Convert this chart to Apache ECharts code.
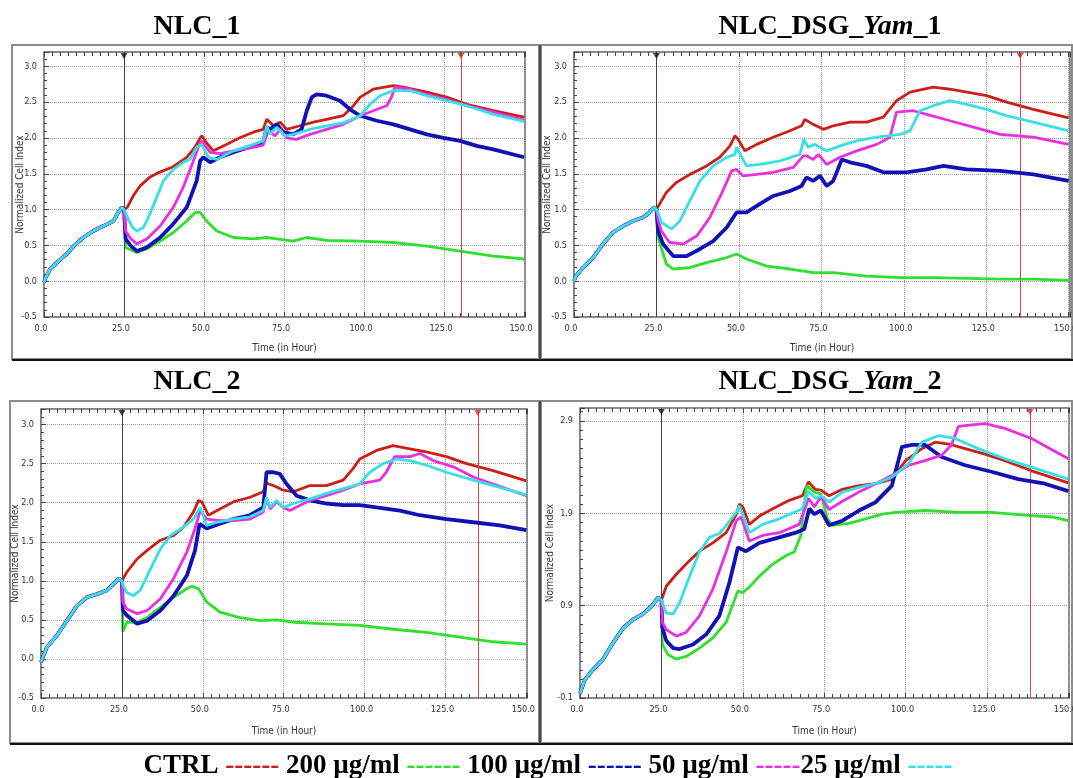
<!DOCTYPE html>
<html>
<head>
<meta charset="utf-8">
<title>Real-time cell index – NLC and NLC_DSG_Yam</title>
<script src="https://cdn.jsdelivr.net/npm/echarts@6/dist/echarts.min.js"></script>
<style>
  html, body { margin: 0; padding: 0; background: #ffffff; }
  #chart { width: 1073px; height: 778px; }
</style>
</head>
<body>
<div id="chart"></div>
<script>
// ---- Data: time (h) vs normalized cell index, one array per curve ----
const seriesNames = ['CTRL', '200 µg/ml', '100 µg/ml', '50 µg/ml', '25 µg/ml'];
const seriesColors = ['#cc1f1a', '#2fe02f', '#1212b4', '#e830e0', '#38e0e6'];
const panelTitles = ['NLC_1', 'NLC_DSG_Yam_1', 'NLC_2', 'NLC_DSG_Yam_2'];
const xTickLabels = ['0.0', '25.0', '50.0', '75.0', '100.0', '125.0', '150.0'];
const treatmentTime = [25, 25, 25, 25];
const endMarkerTime = [130.3, 135.3, 135, 138.2];

// NLC_1
const nlc1Base = [[0,-0.02],[0.5,0.05],[1.9,0.17],[4.5,0.28],[7.1,0.38],[9.5,0.5],[12.3,0.61],[15,0.69],[17.5,0.75],[20,0.8],[21.7,0.84],[23.2,0.96],[24.3,1.03],[25,1.0]];
const nlc1Ctrl = [[26,1.03],[28,1.2],[30,1.33],[33,1.45],[36,1.52],[40,1.59],[44.6,1.73],[47.2,1.87],[48.8,2.0],[49.3,2.03],[51,1.92],[52.9,1.82],[57,1.91],[61,2.0],[65.4,2.08],[68.5,2.12],[69.6,2.26],[71.7,2.17],[73.8,2.22],[75.8,2.12],[80,2.17],[84.2,2.22],[88.3,2.26],[93.5,2.31],[96.7,2.45],[98.8,2.57],[102.9,2.68],[109.2,2.73],[112.3,2.71],[119.6,2.64],[125.8,2.57],[132.1,2.47],[140.4,2.38],[150,2.29]];
const nlc1D200 = [[25.5,0.47],[29,0.40],[32,0.45],[36.3,0.56],[40.4,0.68],[44.6,0.84],[47.2,0.96],[48.8,0.96],[50.8,0.84],[54,0.70],[59.2,0.61],[65.4,0.59],[69.6,0.61],[72.7,0.59],[77.9,0.56],[82.1,0.61],[88.3,0.57],[98.8,0.56],[109.2,0.54],[119.6,0.49],[130,0.42],[140.4,0.35],[150,0.31]];
const nlc1D100 = [[25.5,0.59],[27,0.5],[29,0.42],[32.1,0.47],[36.3,0.61],[40.4,0.80],[44.6,1.03],[47.7,1.40],[48.8,1.68],[49.8,1.73],[51.9,1.66],[55,1.73],[59.2,1.80],[65.4,1.89],[68.5,1.94],[69.6,2.15],[70.6,2.12],[72.7,2.19],[74.8,2.08],[77.9,2.05],[80.5,2.12],[82.1,2.38],[83.7,2.57],[85.2,2.61],[88.3,2.59],[92.5,2.52],[95.6,2.40],[98.8,2.31],[104,2.24],[109.2,2.19],[114.4,2.12],[119.6,2.05],[124.8,2.0],[130,1.96],[135.2,1.89],[140.4,1.84],[150,1.73]];
const nlc1D50 = [[25.5,0.70],[27,0.6],[29,0.52],[32.1,0.59],[36.3,0.77],[40.4,1.03],[43.5,1.31],[46.1,1.61],[48.2,1.87],[49.3,1.96],[51.9,1.80],[55,1.78],[59.2,1.82],[65.4,1.87],[68.5,1.90],[70.1,2.10],[72.2,2.03],[73.8,2.12],[75.8,2.0],[78.9,1.98],[83.1,2.05],[88.3,2.12],[93.5,2.19],[98.8,2.31],[102.9,2.38],[107.1,2.45],[108.6,2.57],[109.7,2.71],[114.4,2.68],[119.6,2.61],[125.8,2.54],[132.1,2.45],[140.4,2.36],[150,2.25]];
const nlc1D25 = [[25.5,0.95],[26.5,0.85],[27.7,0.75],[29,0.70],[31.1,0.75],[33.1,0.94],[35.2,1.17],[37.3,1.40],[40.4,1.56],[43.5,1.66],[45.6,1.70],[47.7,1.87],[49.3,1.91],[51.4,1.73],[54,1.70],[59.2,1.82],[65.4,1.91],[68.5,1.96],[69.6,2.17],[70.6,2.05],[72.7,2.15],[75.3,2.03],[77.9,2.05],[83.1,2.12],[88.3,2.17],[93.5,2.21],[98.8,2.31],[101.9,2.47],[105,2.59],[109.2,2.66],[114.4,2.66],[119.6,2.59],[125.8,2.52],[132.1,2.45],[140.4,2.33],[150,2.23]];

// NLC_DSG_Yam_1
const yam1Base = [[0,0.0],[0.5,0.07],[2.8,0.19],[5.8,0.33],[8.8,0.52],[11.8,0.68],[14.9,0.77],[17.9,0.84],[20.9,0.89],[22.5,0.94],[23.5,1.0],[24.5,1.03],[25,1.0]];
const yam1Ctrl = [[28,1.24],[31.1,1.38],[35.1,1.49],[40.2,1.61],[44.2,1.73],[47.3,1.89],[48.8,2.03],[49.8,1.98],[51.8,1.82],[55.4,1.91],[60.4,2.01],[65.5,2.10],[69,2.17],[70,2.26],[72.5,2.19],[75.6,2.12],[78.6,2.17],[83.7,2.22],[88.7,2.22],[93.8,2.29],[97.8,2.52],[101.9,2.64],[108.9,2.71],[114,2.68],[119.1,2.64],[125.1,2.59],[131.2,2.50],[139.3,2.40],[150,2.28]];
const yam1D200 = [[25.5,0.61],[28,0.24],[30.1,0.17],[35.1,0.19],[40.2,0.26],[46.3,0.33],[49.3,0.38],[52.3,0.31],[58.4,0.21],[65.5,0.17],[72.6,0.12],[78.6,0.12],[88.7,0.07],[98.9,0.05],[109,0.05],[119.1,0.04],[129.2,0.03],[139.3,0.03],[150,0.01]];
const yam1D100 = [[25.5,0.70],[27,0.52],[30.1,0.35],[34.1,0.35],[38.2,0.45],[42.2,0.56],[46.3,0.75],[49.3,0.96],[52.3,0.96],[56.4,1.08],[60.4,1.19],[65.5,1.26],[69,1.33],[70.5,1.45],[72.5,1.40],[74.6,1.47],[76.6,1.33],[78.6,1.40],[81.2,1.70],[83.7,1.66],[88.7,1.61],[93.8,1.52],[100.8,1.52],[106.9,1.56],[112,1.61],[119.1,1.56],[129.2,1.54],[139.3,1.49],[150,1.40]];
const yam1D50 = [[25.5,0.85],[26.5,0.70],[29,0.54],[33.1,0.52],[37.2,0.63],[41.2,0.89],[44.7,1.22],[47.8,1.54],[49.3,1.56],[51.3,1.47],[55.4,1.49],[60.4,1.52],[66.5,1.59],[69.5,1.75],[70.5,1.75],[72.5,1.70],[74.1,1.77],[76.6,1.63],[80.7,1.73],[85.7,1.82],[91.8,1.91],[95.8,2.01],[97.8,2.36],[102.9,2.38],[107,2.33],[114,2.24],[121.1,2.15],[129.2,2.05],[139.3,2.01],[150,1.91]];
const yam1D25 = [[25.5,0.95],[26.5,0.82],[29.6,0.73],[32.1,0.84],[35.1,1.12],[38.2,1.40],[42.2,1.61],[46.3,1.73],[48.8,1.77],[49.3,1.87],[52.3,1.61],[56.4,1.63],[62.5,1.68],[68.5,1.77],[69.7,1.98],[71,1.87],[73,1.91],[76.6,1.82],[80.7,1.89],[85.7,1.96],[91.8,2.01],[98.9,2.05],[101.9,2.10],[104.9,2.38],[108.9,2.45],[114,2.52],[119.1,2.47],[125.1,2.40],[131.2,2.31],[139.3,2.22],[150,2.10]];

// NLC_2
const nlc2Base = [[0,-0.04],[1.8,0.15],[4.9,0.30],[8,0.49],[11.1,0.68],[14.2,0.79],[17.3,0.83],[20.4,0.88],[22.9,0.98],[24,1.03],[25,1.0]];
const nlc2Ctrl = [[26.5,1.11],[29.7,1.28],[32.8,1.39],[36.9,1.52],[41,1.58],[44.1,1.69],[47.1,1.88],[48.7,2.03],[49.7,2.01],[51.7,1.84],[55.3,1.92],[59.4,2.01],[64.6,2.07],[68.7,2.14],[69.7,2.25],[71.8,2.22],[74.9,2.16],[78,2.14],[83.1,2.22],[88.2,2.22],[93.4,2.29],[96.5,2.44],[98.5,2.56],[103.7,2.67],[108.8,2.73],[114,2.69],[119.1,2.65],[125.3,2.59],[131.5,2.50],[139.7,2.41],[150,2.28]];
const nlc2D200 = [[25.3,0.35],[26.5,0.47],[29.7,0.47],[32.8,0.53],[36.9,0.66],[41,0.79],[45.1,0.90],[46.6,0.93],[48.7,0.90],[51.2,0.73],[55.3,0.60],[61.5,0.53],[67.7,0.49],[72.8,0.50],[78,0.47],[88.2,0.45],[98.5,0.43],[108.8,0.38],[119.1,0.34],[129.4,0.28],[139.7,0.22],[150,0.19]];
const nlc2D100 = [[25.3,0.62],[26.5,0.56],[29.7,0.45],[32.8,0.49],[36.9,0.62],[41,0.81],[45.1,1.07],[47.6,1.39],[49,1.73],[51.2,1.67],[55.3,1.73],[59.4,1.79],[64.6,1.84],[68.7,1.94],[69.7,2.39],[71.8,2.39],[73.8,2.37],[75.9,2.24],[79,2.09],[83.1,2.03],[88.2,1.99],[93.4,1.97],[98.5,1.97],[103.7,1.94],[110.9,1.90],[117.1,1.84],[125.3,1.79],[133.6,1.75],[141.8,1.71],[150,1.65]];
const nlc2D50 = [[25.3,0.73],[26.5,0.64],[29.7,0.58],[32.8,0.62],[36.9,0.77],[41,1.03],[45.1,1.37],[47.6,1.67],[49.2,1.90],[51.2,1.79],[55.3,1.77],[59.4,1.77],[64.6,1.79],[68.7,1.88],[69.7,2.05],[70.8,1.92],[72.8,2.01],[74.9,1.94],[76.9,1.90],[83.1,2.03],[88.2,2.09],[93.4,2.16],[98.5,2.24],[104.7,2.29],[106.7,2.39],[109.3,2.59],[114,2.59],[117.1,2.63],[121.2,2.54],[127.4,2.46],[133.6,2.33],[139.7,2.24],[150,2.09]];
const nlc2D25 = [[25.3,0.96],[26.5,0.85],[28.6,0.81],[30.7,0.88],[33.8,1.15],[36.9,1.41],[40,1.58],[44.1,1.69],[47.1,1.79],[49.2,1.94],[51.2,1.71],[54.3,1.75],[59.4,1.79],[64.6,1.82],[68.7,1.90],[69.7,2.07],[70.8,1.94],[72.8,2.03],[74.9,1.94],[78,1.99],[83.1,2.05],[88.2,2.12],[93.4,2.18],[98.5,2.24],[101.6,2.39],[105.7,2.50],[109.9,2.56],[114,2.54],[119.1,2.48],[125.3,2.39],[133.6,2.29],[139.7,2.22],[150,2.10]];

// NLC_DSG_Yam_2
const yam2Base = [[0,-0.05],[1.5,0.10],[4.1,0.21],[7.1,0.32],[10.2,0.50],[13.3,0.66],[16.3,0.75],[19.4,0.81],[22.4,0.91],[24,0.99],[25,0.96]];
const yam2Ctrl = [[26.5,1.11],[29.6,1.24],[32.6,1.35],[36.7,1.49],[40.8,1.58],[44.9,1.69],[48,1.89],[49,2.0],[50,1.97],[52,1.78],[55.1,1.87],[59.2,1.95],[64.3,2.04],[68.3,2.09],[70.2,2.24],[72.2,2.16],[74,2.15],[76.5,2.09],[80.6,2.16],[85.7,2.20],[90.8,2.22],[95.8,2.27],[100,2.47],[105,2.60],[109.1,2.67],[113.2,2.65],[118.3,2.60],[124.4,2.54],[130.5,2.47],[138.7,2.36],[150,2.23]];
const yam2D200 = [[25.3,0.48],[27,0.37],[29.6,0.32],[32.6,0.35],[36.7,0.44],[40.8,0.55],[44.9,0.72],[48.5,1.06],[50,1.04],[52,1.10],[55.1,1.22],[59.2,1.35],[63.2,1.44],[65.8,1.48],[67.8,1.66],[69.6,2.20],[72,2.13],[74,2.11],[76,1.84],[77.5,1.77],[82.6,1.79],[87.7,1.84],[92.8,1.89],[96.9,1.91],[106,1.93],[116.2,1.91],[126.4,1.91],[136.6,1.88],[144.8,1.86],[150,1.82]];
const yam2D100 = [[25.3,0.66],[26.5,0.52],[28.6,0.44],[30.6,0.43],[34.7,0.48],[38.8,0.59],[42.8,0.79],[45.9,1.15],[48.5,1.53],[51,1.49],[55.1,1.58],[61.2,1.64],[66.3,1.69],[68.9,1.73],[70.4,1.95],[72,1.89],[74,1.93],[76.5,1.77],[80.6,1.82],[85.7,1.93],[90.8,2.02],[95.8,2.20],[98.9,2.62],[102,2.64],[106,2.64],[111.1,2.51],[118.3,2.42],[126.4,2.35],[134.6,2.27],[142.8,2.22],[150,2.14]];
const yam2D50 = [[25.3,0.72],[26.5,0.64],[29.6,0.57],[32.6,0.61],[36.7,0.79],[40.8,1.08],[44.9,1.48],[48,1.82],[49.5,1.86],[52,1.60],[56.1,1.66],[61.2,1.69],[67.3,1.78],[70.2,2.06],[72,1.97],[74,2.08],[76.5,1.94],[80.6,2.03],[85.7,2.13],[90.8,2.22],[95.8,2.31],[101,2.42],[106,2.47],[111.1,2.53],[114.1,2.64],[116.2,2.84],[121.2,2.86],[124.4,2.87],[130.5,2.82],[138.7,2.71],[150,2.49]];
const yam2D25 = [[25.3,0.93],[26.5,0.82],[28.6,0.81],[30.6,0.93],[33.7,1.22],[36.7,1.48],[39.8,1.64],[42.8,1.68],[44.9,1.77],[48,1.91],[49,1.98],[52,1.69],[56.1,1.78],[61.2,1.84],[68.3,1.95],[70.2,2.14],[72.4,2.06],[74,2.09],[76.5,2.02],[80.6,2.13],[85.7,2.18],[90.8,2.22],[95.8,2.29],[101,2.44],[105,2.67],[110.1,2.74],[115.2,2.71],[122.3,2.60],[130.5,2.49],[138.7,2.40],[150,2.27]];

const panelData = [
  { base: nlc1Base, curves: [nlc1Ctrl, nlc1D200, nlc1D100, nlc1D50, nlc1D25] },
  { base: yam1Base, curves: [yam1Ctrl, yam1D200, yam1D100, yam1D50, yam1D25] },
  { base: nlc2Base, curves: [nlc2Ctrl, nlc2D200, nlc2D100, nlc2D50, nlc2D25] },
  { base: yam2Base, curves: [yam2Ctrl, yam2D200, yam2D100, yam2D50, yam2D25] }
];

// ---- Layout of the four plot areas ----
const layout = [
  { grid: { left: 44,  top: 52,  width: 481, height: 265 }, xMax: 150.3, yMin: -0.5, yMax: 3.2,  yStep: 0.5, yMinor: 5,  yNameGap: 19, xNameGap: 26 },
  { grid: { left: 574, top: 52,  width: 496, height: 265 }, xMax: 150.4, yMin: -0.5, yMax: 3.2,  yStep: 0.5, yMinor: 5,  yNameGap: 22, xNameGap: 26 },
  { grid: { left: 41,  top: 409, width: 486, height: 289 }, xMax: 150.2, yMin: -0.5, yMax: 3.2,  yStep: 0.5, yMinor: 5,  yNameGap: 21, xNameGap: 28 },
  { grid: { left: 580, top: 408, width: 489, height: 290 }, xMax: 150.2, yMin: -0.1, yMax: 3.04, yStep: 1,   yMinor: 10, yNameGap: 25, xNameGap: 28 }
];

const tickFont = "'Liberation Sans Narrow','DejaVu Sans Condensed','Liberation Sans',sans-serif";
const serif = "'Liberation Serif','Times New Roman',serif";
const tickLine = { color: '#444' };
const dotted = { type: 'dotted', color: '#9a9a9a', width: 1 };

const grids = [], xAxes = [], yAxes = [], series = [];

function xLabel(v) {
  const i = Math.round(v / 25);
  return Math.abs(v - i * 25) < 1e-6 ? xTickLabels[i] : '';
}

layout.forEach((L, p) => {
  // grid 3p: data area; 3p+1: bottom time scale; 3p+2: top edge ticks
  const fixed = { containLabel: false, outerBoundsMode: 'none' };
  const gData = grids.length;
  grids.push(Object.assign({ show: true, backgroundColor: '#ffffff', borderColor: '#5c5c5c', borderWidth: 1.5 }, fixed, L.grid));
  grids.push(Object.assign({ show: false }, fixed, L.grid));
  grids.push(Object.assign({ show: false }, fixed, L.grid));

  // data grid axes
  const xData = xAxes.length;
  xAxes.push({
    type: 'value', gridIndex: gData, min: 0, max: L.xMax, interval: 25,
    axisLine: { show: false, onZero: false }, axisTick: { show: false }, axisLabel: { show: false },
    splitLine: { show: true, lineStyle: dotted }
  });
  const yData = yAxes.length;
  yAxes.push({
    type: 'value', gridIndex: gData, min: L.yMin, max: L.yMax, interval: L.yStep,
    name: 'Normalized Cell Index', nameLocation: 'middle', nameGap: L.yNameGap, nameRotate: 90,
    nameMoveOverlap: false,
    nameTextStyle: { fontFamily: tickFont, fontSize: 10, color: '#333' },
    axisLine: { show: false, onZero: false },
    axisTick: { show: true, inside: true, length: 5, lineStyle: tickLine },
    minorTick: { show: true, splitNumber: L.yMinor, length: 3, lineStyle: tickLine },
    axisLabel: { margin: 7, fontFamily: tickFont, fontSize: 9, color: '#333', showMaxLabel: false, formatter: v => v.toFixed(1) },
    splitLine: { show: true, lineStyle: dotted }
  });

  // bottom time scale (unit helper axis keeps it on the lower edge)
  xAxes.push({
    type: 'value', gridIndex: gData + 1, position: 'bottom', min: 0, max: L.xMax, interval: 25,
    name: 'Time (in Hour)', nameLocation: 'middle', nameGap: L.xNameGap, nameMoveOverlap: false,
    nameTextStyle: { fontFamily: tickFont, fontSize: 10, color: '#333' },
    axisLine: { show: false, onZero: false },
    axisTick: { show: true, inside: true, length: 5, lineStyle: tickLine },
    minorTick: { show: true, splitNumber: 10, length: 4, lineStyle: tickLine },
    axisLabel: {
      margin: 7, fontFamily: tickFont, fontSize: 9, color: '#333', padding: [0, 6, 0, 0],
      showMaxLabel: true, hideOverlap: false, formatter: xLabel
    },
    splitLine: { show: false }
  });
  yAxes.push({ type: 'value', gridIndex: gData + 1, min: 0, max: 1, show: false });

  // top edge ticks
  xAxes.push({
    type: 'value', gridIndex: gData + 2, position: 'top', min: 0, max: L.xMax, interval: 25,
    axisLine: { show: false, onZero: false }, axisLabel: { show: false }, splitLine: { show: false },
    axisTick: { show: true, inside: true, length: 5, lineStyle: tickLine },
    minorTick: { show: true, splitNumber: 10, length: 4, lineStyle: tickLine }
  });
  yAxes.push({ type: 'value', gridIndex: gData + 2, min: 0, max: 1, inverse: true, show: false });

  const D = panelData[p];
  D.curves.forEach((c, k) => {
    series.push({
      type: 'line', name: seriesNames[k], xAxisIndex: xData, yAxisIndex: yData,
      data: D.base.concat(c), showSymbol: false, symbol: 'none', animation: false, silent: true,
      lineStyle: { color: seriesColors[k], width: k === 2 ? 3.8 : 2.8 },
      z: 3 + k
    });
  });

  // treatment (black) and end-point (red) markers
  series.push({
    type: 'scatter', xAxisIndex: xData, yAxisIndex: yData, animation: false, silent: true,
    data: [
      { value: [treatmentTime[p], L.yMax], itemStyle: { color: '#111' } },
      { value: [endMarkerTime[p], L.yMax], itemStyle: { color: '#d42a2a' } }
    ],
    symbol: 'triangle', symbolRotate: 180, symbolSize: [7, 6], symbolOffset: [0, 4], clip: false, z: 10,
    markLine: {
      silent: true, symbol: 'none', animation: false, label: { show: false },
      data: [
        { xAxis: treatmentTime[p], lineStyle: { color: '#444', width: 1, type: 'solid' } },
        { xAxis: endMarkerTime[p], lineStyle: { color: '#d84848', width: 1, type: 'solid' } }
      ]
    }
  });
});

// ---- panel frames, titles and the colour key ----
const frames = [
  { x: 12, y: 45, w: 527, h: 314 },
  { x: 541, y: 45, w: 531, h: 314 },
  { x: 10, y: 401, w: 529, h: 342 },
  { x: 541, y: 401, w: 531, h: 342 }
];
const graphics = [];
frames.forEach(f => graphics.push({
  type: 'rect', z: -10, silent: true,
  shape: { x: f.x, y: f.y, width: f.w, height: f.h },
  style: { fill: 'none', stroke: '#8c8c8c', lineWidth: 2 }
}));
[[12, 360, 1073, 360], [10, 744, 1073, 744]].forEach(l => graphics.push({
  type: 'line', z: -5, silent: true, shape: { x1: l[0], y1: l[1], x2: l[2], y2: l[3] },
  style: { stroke: '#111', lineWidth: 2 }
}));
[[540, 45, 540, 360], [540, 401, 540, 744]].forEach(l => graphics.push({
  type: 'line', z: -5, silent: true, shape: { x1: l[0], y1: l[1], x2: l[2], y2: l[3] },
  style: { stroke: '#333', lineWidth: 1.5 }
}));

const titleRich = {
  b: { fontFamily: serif, fontWeight: 'bold', fontSize: 28, fill: '#000', color: '#000' },
  i: { fontFamily: serif, fontWeight: 'bold', fontStyle: 'italic', fontSize: 28, fill: '#000', color: '#000' }
};
function richTitle(t) {
  const m = t.match(/^(.*_)(Yam)(_.*)$/);
  return m ? '{b|' + m[1] + '}{i|' + m[2] + '}{b|' + m[3] + '}' : '{b|' + t + '}';
}
const titlePos = [[197, 27], [830, 27], [197, 382], [830, 382]];
panelTitles.forEach((t, p) => graphics.push({
  type: 'text', x: titlePos[p][0], y: titlePos[p][1], silent: true,
  style: { text: richTitle(t), rich: titleRich, align: 'center', verticalAlign: 'middle' }
}));

const keyRich = { t: { fontFamily: serif, fontWeight: 'bold', fontSize: 27, fill: '#000' } };
const keyTags = ['r', 'g', 'bl', 'm', 'c'];
keyTags.forEach((tag, k) => keyRich[tag] = { fontFamily: serif, fontWeight: 'bold', fontSize: 27, fill: seriesColors[k] });
const keyDashes = ['------', '------', '------', '-----', '-----'];
const keyText =
  '{t|CTRL }{r|' + keyDashes[0] + '}{t| ' + seriesNames[1] + ' }{g|' + keyDashes[1] +
  '}{t| ' + seriesNames[2] + ' }{bl|' + keyDashes[2] + '}{t| ' + seriesNames[3] + ' }{m|' + keyDashes[3] +
  '}{t|' + seriesNames[4] + ' }{c|' + keyDashes[4] + '}';
graphics.push({
  type: 'text', x: 548, y: 766, silent: true,
  style: { text: keyText, rich: keyRich, align: 'center', verticalAlign: 'middle' }
});

const chart = echarts.init(document.getElementById('chart'), null, { renderer: 'canvas' });
chart.setOption({
  animation: false,
  backgroundColor: '#ffffff',
  grid: grids,
  xAxis: xAxes,
  yAxis: yAxes,
  series: series,
  graphic: graphics
});
</script>
</body>
</html>
